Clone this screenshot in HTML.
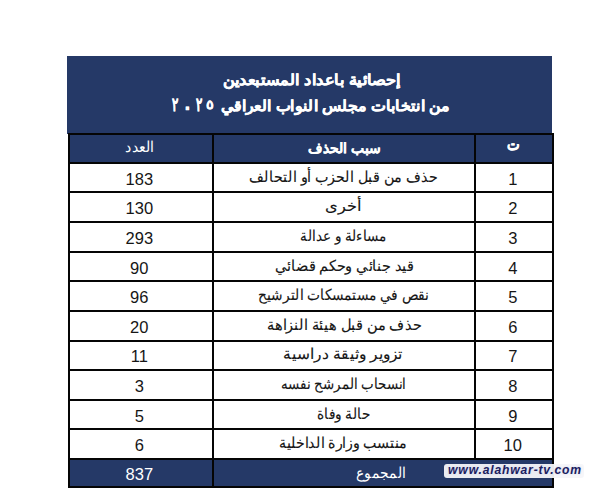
<!DOCTYPE html>
<html lang="ar"><head><meta charset="utf-8"><title>إحصائية باعداد المستبعدين</title>
<style>
html,body{margin:0;padding:0;background:#fff;width:600px;height:493px;overflow:hidden}
body{position:relative;font-family:"Liberation Sans",sans-serif;color:#161616}
.ln{position:absolute;background:#050505}
.nv{position:absolute;background:#253967}
.c{position:absolute;text-align:center;white-space:nowrap;line-height:20px;height:20px}
.c>span{display:inline-block}
.t{color:#fff}
.ar{font-size:14.5px;-webkit-text-stroke:0.12px #161616}
.t.ar{-webkit-text-stroke:0}
.num{font-size:16.5px}
</style></head><body>

<div class="nv" style="left:67px;top:56px;width:484.6px;height:78px"></div>
<div class="nv" style="left:68px;top:133.5px;width:484px;height:29.7px"></div>
<div class="nv" style="left:68px;top:458.8px;width:484px;height:28.6px"></div>
<div class="c t" dir="rtl" style="left:67px;width:485px;top:70.0px;font-size:15px;font-weight:bold"><span id="title1" style="transform:translateX(2.50px) scaleX(1.079);-webkit-text-stroke:0.35px #fff;">إحصائية باعداد المستبعدين</span></div>
<div class="c t" dir="rtl" style="left:67px;width:485px;top:96.0px;font-size:15px;font-weight:bold"><span id="title2" style="transform:translateX(25.60px) scaleX(1.055);-webkit-text-stroke:0.35px #fff;">من انتخابات مجلس النواب العراقي</span></div>
<div class="c t" style="left:165.2px;width:20px;top:95.0px;font-size:18px;font-weight:bold"><span id="d1" style="-webkit-text-stroke:0.35px #fff;transform:scale(0.65,1.05)">٢</span></div>
<div class="c t" style="left:176.8px;width:20px;top:95.0px;font-size:18px;font-weight:bold"><span id="d2" style="-webkit-text-stroke:0.35px #fff;transform:translateY(2px) scale(1.1)">٠</span></div>
<div class="c t" style="left:188.5px;width:20px;top:95.0px;font-size:18px;font-weight:bold"><span id="d3" style="-webkit-text-stroke:0.35px #fff;transform:scale(0.65,1.05)">٢</span></div>
<div class="c t" style="left:200.2px;width:20px;top:95.0px;font-size:18px;font-weight:bold"><span id="d4" style="-webkit-text-stroke:0.35px #fff;transform:translateY(0px) scale(0.8,0.72)">٥</span></div>
<div class="ln" style="left:67.5px;width:486px;top:132.5px;height:2px"></div>
<div class="ln" style="left:67.5px;width:486px;top:162.2px;height:2px"></div>
<div class="ln" style="left:67.5px;width:486px;top:191.3px;height:2px"></div>
<div class="ln" style="left:67.5px;width:486px;top:221.0px;height:2px"></div>
<div class="ln" style="left:67.5px;width:486px;top:250.6px;height:2px"></div>
<div class="ln" style="left:67.5px;width:486px;top:280.4px;height:2px"></div>
<div class="ln" style="left:67.5px;width:486px;top:309.8px;height:2px"></div>
<div class="ln" style="left:67.5px;width:486px;top:339.5px;height:2px"></div>
<div class="ln" style="left:67.5px;width:486px;top:369.2px;height:2px"></div>
<div class="ln" style="left:67.5px;width:486px;top:398.9px;height:2px"></div>
<div class="ln" style="left:67.5px;width:486px;top:428.4px;height:2px"></div>
<div class="ln" style="left:67.5px;width:486px;top:457.8px;height:2px"></div>
<div class="ln" style="left:67.5px;width:486px;top:486.4px;height:2px"></div>
<div class="ln" style="left:67.5px;width:2px;top:132.5px;height:355.9px"></div>
<div class="ln" style="left:212.1px;width:2px;top:132.5px;height:355.9px"></div>
<div class="ln" style="left:474.0px;width:2px;top:132.5px;height:327.3px"></div>
<div class="ln" style="left:551.6px;width:2px;top:132.5px;height:355.9px"></div>
<div class="c t" style="left:69.5px;width:142.6px;top:136.8px;font-size:15px"><span id="h_adad" style="transform:translateX(-1.00px) scaleX(0.933);">العدد</span></div>
<div class="c t" style="left:214.1px;width:259.9px;top:137.8px;font-size:14px;font-weight:bold;-webkit-text-stroke:0.3px #fff"><span id="h_sabab" style="transform:translateX(-0.20px) scaleX(0.995);">سبب الحذف</span></div>
<div class="c t" style="left:476.0px;width:75.6px;top:135.3px;font-size:17px;font-weight:bold;-webkit-text-stroke:0.3px #fff"><span id="h_t" style="transform:translateX(-0.60px) scaleX(0.789);">ت</span></div>
<div class="c num" style="left:69.5px;width:142.6px;top:168.8px;"><span id="n1" style="position:relative;left:-1.5px">183</span></div>
<div class="c ar" style="left:214.1px;width:259.9px;top:166.8px;"><span id="a1" style="transform:translateX(-0.50px) scaleX(0.954);">حذف من قبل الحزب أو التحالف</span></div>
<div class="c num" style="left:476.0px;width:75.6px;top:168.8px;"><span id="k1" style="position:relative;left:-1px">1</span></div>
<div class="c num" style="left:69.5px;width:142.6px;top:198.2px;"><span id="n2" style="position:relative;left:-1.5px">130</span></div>
<div class="c ar" style="left:214.1px;width:259.9px;top:196.2px;"><span id="a2" style="transform:translateX(-1.40px) scaleX(1.084);">أخرى</span></div>
<div class="c num" style="left:476.0px;width:75.6px;top:198.2px;"><span id="k2" style="position:relative;left:-1px">2</span></div>
<div class="c num" style="left:69.5px;width:142.6px;top:227.8px;"><span id="n3" style="position:relative;left:-1.5px">293</span></div>
<div class="c ar" style="left:214.1px;width:259.9px;top:225.8px;"><span id="a3" style="transform:translateX(-1.40px) scaleX(0.901);">مساءلة و عدالة</span></div>
<div class="c num" style="left:476.0px;width:75.6px;top:227.8px;"><span id="k3" style="position:relative;left:-1px">3</span></div>
<div class="c num" style="left:69.5px;width:142.6px;top:257.5px;"><span id="n4" style="position:relative;left:-1.5px">90</span></div>
<div class="c ar" style="left:214.1px;width:259.9px;top:255.5px;"><span id="a4" style="transform:translateX(0.40px) scaleX(0.966);">قيد جنائي وحكم قضائي</span></div>
<div class="c num" style="left:476.0px;width:75.6px;top:257.5px;"><span id="k4" style="position:relative;left:-1px">4</span></div>
<div class="c num" style="left:69.5px;width:142.6px;top:287.1px;"><span id="n5" style="position:relative;left:-1.5px">96</span></div>
<div class="c ar" style="left:214.1px;width:259.9px;top:285.1px;"><span id="a5" style="transform:translateX(-0.20px) scaleX(0.916);">نقص في مستمسكات الترشيح</span></div>
<div class="c num" style="left:476.0px;width:75.6px;top:287.1px;"><span id="k5" style="position:relative;left:-1px">5</span></div>
<div class="c num" style="left:69.5px;width:142.6px;top:316.6px;"><span id="n6" style="position:relative;left:-1.5px">20</span></div>
<div class="c ar" style="left:214.1px;width:259.9px;top:314.6px;"><span id="a6" style="transform:translateX(0.60px) scaleX(0.970);">حذف من قبل هيئة النزاهة</span></div>
<div class="c num" style="left:476.0px;width:75.6px;top:316.6px;"><span id="k6" style="position:relative;left:-1px">6</span></div>
<div class="c num" style="left:69.5px;width:142.6px;top:346.4px;"><span id="n7" style="position:relative;left:-1.5px">11</span></div>
<div class="c ar" style="left:214.1px;width:259.9px;top:344.4px;"><span id="a7" style="transform:translateX(-1.70px) scaleX(1.034);">تزوير وثيقة دراسية</span></div>
<div class="c num" style="left:476.0px;width:75.6px;top:346.4px;"><span id="k7" style="position:relative;left:-1px">7</span></div>
<div class="c num" style="left:69.5px;width:142.6px;top:376.0px;"><span id="n8" style="position:relative;left:-1.5px">3</span></div>
<div class="c ar" style="left:214.1px;width:259.9px;top:374.0px;"><span id="a8" style="transform:translateX(-0.60px) scaleX(0.893);">انسحاب المرشح نفسه</span></div>
<div class="c num" style="left:476.0px;width:75.6px;top:376.0px;"><span id="k8" style="position:relative;left:-1px">8</span></div>
<div class="c num" style="left:69.5px;width:142.6px;top:405.6px;"><span id="n9" style="position:relative;left:-1.5px">5</span></div>
<div class="c ar" style="left:214.1px;width:259.9px;top:403.6px;"><span id="a9" style="transform:translateX(-0.60px) scaleX(0.910);">حالة وفاة</span></div>
<div class="c num" style="left:476.0px;width:75.6px;top:405.6px;"><span id="k9" style="position:relative;left:-1px">9</span></div>
<div class="c num" style="left:69.5px;width:142.6px;top:435.1px;"><span id="n10" style="position:relative;left:-1.5px">6</span></div>
<div class="c ar" style="left:214.1px;width:259.9px;top:433.1px;"><span id="a10" style="transform:translateX(-1.60px) scaleX(0.946);">منتسب وزارة الداخلية</span></div>
<div class="c num" style="left:476.0px;width:75.6px;top:435.1px;"><span id="k10" style="position:relative;left:-1px">10</span></div>
<div class="c t num" style="left:69.5px;width:142.6px;top:464.1px;"><span id="tot_n" style="position:relative;left:-1.5px">837</span></div>
<div class="c t ar" style="left:214.1px;width:337.5px;top:463.1px;"><span id="tot_t" style="transform:translateX(-2.00px) scaleX(0.923);">المجموع</span></div>
<div class="wmb" style="position:absolute;left:444px;top:463.8px;width:140px;height:14.2px;background:rgba(246,246,249,0.95);border-radius:3px"></div>
<div style="position:absolute;left:448px;top:461.5px;font-size:12px;line-height:16px;font-weight:bold;font-style:italic;color:#1c1d5e;text-shadow:0 0 2px rgba(200,204,236,0.9);letter-spacing:0.8px;white-space:nowrap"><span id="wm" style="transform:translateX(1.00px) scaleX(1.014);display:inline-block">www.alahwar-tv.com</span></div>
</body></html>
